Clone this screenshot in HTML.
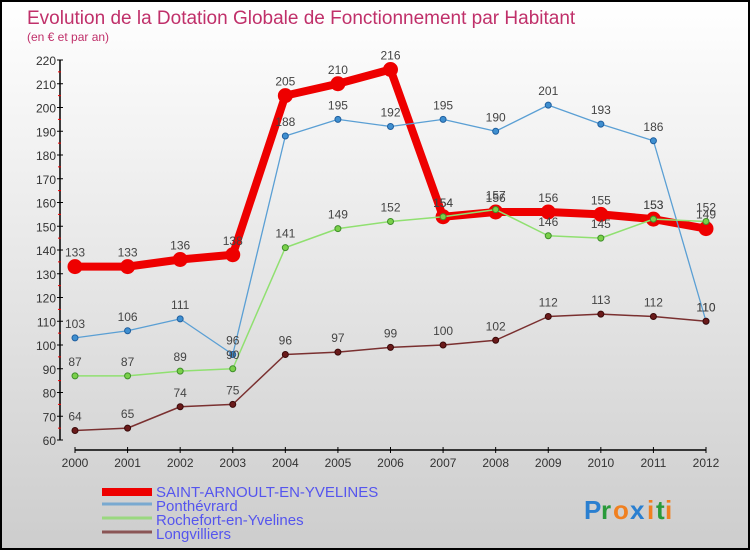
<!DOCTYPE html>
<html><head><meta charset="utf-8"><style>
body{margin:0}
#c{width:750px;height:550px;position:relative;box-sizing:border-box;border:2px solid #000;background:linear-gradient(#fff,#cdcdcd);overflow:hidden;font-family:"Liberation Sans",sans-serif}
</style></head><body>
<div id="c">
<svg id="s" width="746" height="546" style="position:absolute;left:0;top:0"></svg>
</div>
<script>
const years=["2000","2001","2002","2003","2004","2005","2006","2007","2008","2009","2010","2011","2012"];
const saint=[133,133,136,138,205,210,216,154,156,156,155,153,149];
const pont=[103,106,111,96,188,195,192,195,190,201,193,186,110];
const roch=[87,87,89,90,141,149,152,154,157,146,145,153,152];
const longv=[64,65,74,75,96,97,99,100,102,112,113,112,110];
const yTicks=[60,70,80,90,100,110,120,130,140,150,160,170,180,190,200,210,220];
const seriesNames=["SAINT-ARNOULT-EN-YVELINES","Ponthévrard","Rochefort-en-Yvelines","Longvilliers"];
const O=-2;
const X=i=>75+O+i*(706-75)/12;
const Y=v=>440+O-(v-60)*(380/160);
const s=document.getElementById('s');const NS="http://www.w3.org/2000/svg";
function el(t,a,txt){const e=document.createElementNS(NS,t);for(const k in a)e.setAttribute(k,a[k]);if(txt!=null)e.textContent=txt;s.appendChild(e);return e;}
let e;
e=el('text',{x:25,y:22,'font-size':19,fill:'#c0306a'},'Evolution de la Dotation Globale de Fonctionnement par Habitant');

e=el('text',{x:25,y:39,'font-size':12,fill:'#c0306a'},'(en € et par an)');

// y axis
e=el('line',{x1:60+O,y1:Y(220),x2:60+O,y2:Y(60),stroke:'#000','stroke-width':1.5});

yTicks.forEach((v,i)=>{
 let t=el('line',{x1:57+O,y1:Y(v),x2:63+O,y2:Y(v),stroke:'#000'});
 
 if(i<yTicks.length-1){let m=el('line',{x1:58+O,y1:Y(v+5),x2:61+O,y2:Y(v+5),stroke:'#e00'});}
 let l=el('text',{x:56+O,y:Y(v)+5,'font-size':12,fill:'#333','text-anchor':'end'},String(v));
 
});
// x axis
e=el('line',{x1:X(0),y1:450+O,x2:X(12),y2:450+O,stroke:'#000','stroke-width':1.5});

years.forEach((y,i)=>{
 let t=el('line',{x1:X(i),y1:447+O,x2:X(i),y2:453+O,stroke:'#000'});
 
 let l=el('text',{x:X(i),y:467+O,'font-size':12,fill:'#333','text-anchor':'middle'},y);
 
});
function series(d,name,color,w,r,dotFill,stroke){
 const pts=d.map((v,i)=>X(i)+','+Y(v)).join(' ');
 let p=el('polyline',{points:pts,fill:'none',stroke:color,'stroke-width':w,'stroke-linejoin':'round'});
 
 d.forEach((v,i)=>{
  let c=el('circle',{cx:X(i),cy:Y(v),r:r,fill:dotFill,stroke:stroke,'stroke-width':1});
  
  let t=el('text',{x:X(i),y:Y(v)-10,'font-size':12,fill:'#444','text-anchor':'middle'},String(v));
  
 });
}
series(saint,'saint-arnoult','#ee0000',8,7,'#ee0000','#ee0000');
series(pont,'ponthevrard','#5a9fd4',1.3,3,'#3f8fd0','#1f5f9f');
series(roch,'rochefort','#90e070',1.5,3,'#7ad04a','#3f8f2a');
series(longv,'longvilliers','#7a3030',1.5,3,'#6a1a1a','#3a0a0a');
// legend
const lc=['#ee0000','#79a9d0','#9ad880','#8a5555'];const lw=[8,3,3,3];
seriesNames.forEach((n,i)=>{
 const yy=490+O+i*14;
 let l=el('line',{x1:100,y1:yy+(i==0?2:0),x2:150,y2:yy+(i==0?2:0),stroke:lc[i],'stroke-width':lw[i]});
 
 let t=el('text',{x:154,y:yy+7,'font-size':15,fill:'#5555ee'},n);
 
});
const logo=[['P','#2a7fd0'],['r','#2a9a3a'],['o','#f08020'],['x','#2a7fd0'],['i','#f08020'],['t','#2a9a3a'],['i','#f08020']];
let lx=582;
logo.forEach(([ch,col])=>{let t=el('text',{x:lx,y:517,'font-size':26,'font-weight':'bold',fill:col},ch);lx+=(ch=='i'||ch=='t'?9:(ch=='r'?12:17));});
</script>
</body></html>
